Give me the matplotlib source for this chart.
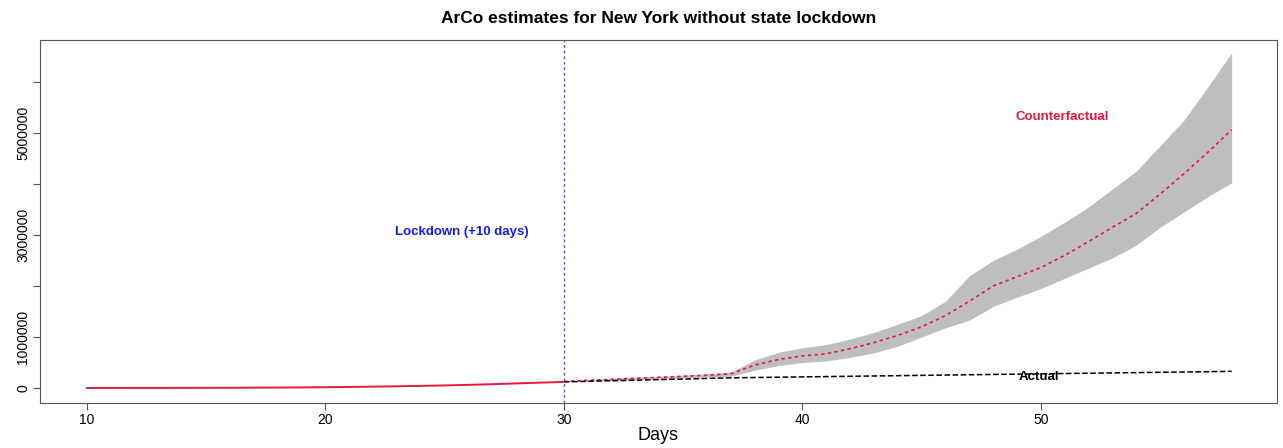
import numpy as np
import matplotlib.pyplot as plt

plt.rcParams['font.family'] = ['Liberation Sans', 'DejaVu Sans']

# observed cases, days 10..58
days = np.arange(10, 59)
actual = [1e3, 1.5e3, 2e3, 2.5e3, 3e3, 4e3, 5e3, 7e3, 9e3, 12e3,
          16e3, 21e3, 27e3, 34e3, 42e3, 51e3, 62e3, 75e3, 90e3, 105e3,
          120e3, 132e3, 143e3, 153e3, 165e3, 176e3, 188e3, 200e3, 206e3, 212e3,
          218e3, 224e3, 230e3, 236e3, 242e3, 248e3, 254e3, 260e3, 266e3, 272e3,
          278e3, 284e3, 290e3, 296e3, 302e3, 308e3, 314e3, 320e3, 328e3]

# counterfactual with confidence band, days 30..58
cf_days = np.arange(30, 59)
cf = [0.13, 0.15, 0.17, 0.19, 0.21, 0.23, 0.25, 0.28, 0.45, 0.56,
      0.63, 0.67, 0.77, 0.89, 1.03, 1.20, 1.42, 1.70, 2.00, 2.18,
      2.36, 2.60, 2.87, 3.15, 3.42, 3.80, 4.20, 4.62, 5.06]
cf_lo = [0.13, 0.14, 0.15, 0.17, 0.18, 0.20, 0.22, 0.23, 0.35, 0.44,
         0.50, 0.53, 0.60, 0.69, 0.82, 1.00, 1.18, 1.33, 1.60, 1.78,
         1.95, 2.15, 2.35, 2.55, 2.80, 3.15, 3.45, 3.75, 4.02]
cf_hi = [0.13, 0.16, 0.19, 0.21, 0.23, 0.25, 0.28, 0.31, 0.55, 0.70,
         0.79, 0.85, 0.96, 1.09, 1.25, 1.42, 1.70, 2.20, 2.50, 2.72,
         2.97, 3.25, 3.55, 3.90, 4.25, 4.75, 5.25, 5.90, 6.57]
cf = np.array(cf) * 1e6
cf_lo = np.array(cf_lo) * 1e6
cf_hi = np.array(cf_hi) * 1e6

lockdown_day = 30

fig = plt.figure(figsize=(12.83, 4.48), dpi=100)
ax = fig.add_axes([0.0312, 0.1004, 0.9641, 0.8103])

ax.fill_between(cf_days, cf_lo, cf_hi, color='#bebebe', lw=0)
ax.plot(cf_days, cf, color='#e8173c', ls=(0, (2, 2)), lw=1.2)
ax.plot(days[days >= lockdown_day], np.array(actual)[days >= lockdown_day],
        color='black', ls='--', lw=1.1)
ax.plot(days[days <= lockdown_day], np.array(actual)[days <= lockdown_day],
        color='#e8173c', lw=1.4)
ax.axvline(lockdown_day, color='#5555cc', ls=(0, (2, 2)), lw=1)

ax.text(25.7, 3.06e6, 'Lockdown (+10 days)', color='#1a1ae6', fontsize=9.5,
        fontweight='bold', ha='center', va='center')
ax.text(50.9, 5.31e6, 'Counterfactual', color='#e8173c', fontsize=9.5,
        fontweight='bold', ha='center', va='center')
ax.text(49.9, 0.22e6, 'Actual', color='black', fontsize=9.5,
        fontweight='bold', ha='center', va='center')

ax.set_xlim(8.03, 59.9)
ax.set_ylim(-0.294e6, 6.82e6)
ax.set_xticks([10, 20, 30, 40, 50])
ax.set_yticks(np.arange(0, 7e6, 1e6))
ax.set_yticklabels(['0', '1000000', '', '3000000', '', '5000000', ''])
for lab in ax.get_yticklabels():
    lab.set_rotation(90)
    lab.set_va('center')
ax.tick_params(labelsize=10, length=5, color='#555555', pad=2)
for s in ax.spines.values():
    s.set_color('#555555')
ax.set_xlabel('Days', fontsize=13, labelpad=0)
ax.set_title('ArCo estimates for New York without state lockdown',
             fontsize=12.5, fontweight='bold', pad=12)

fig.savefig('out.png', dpi=100)
